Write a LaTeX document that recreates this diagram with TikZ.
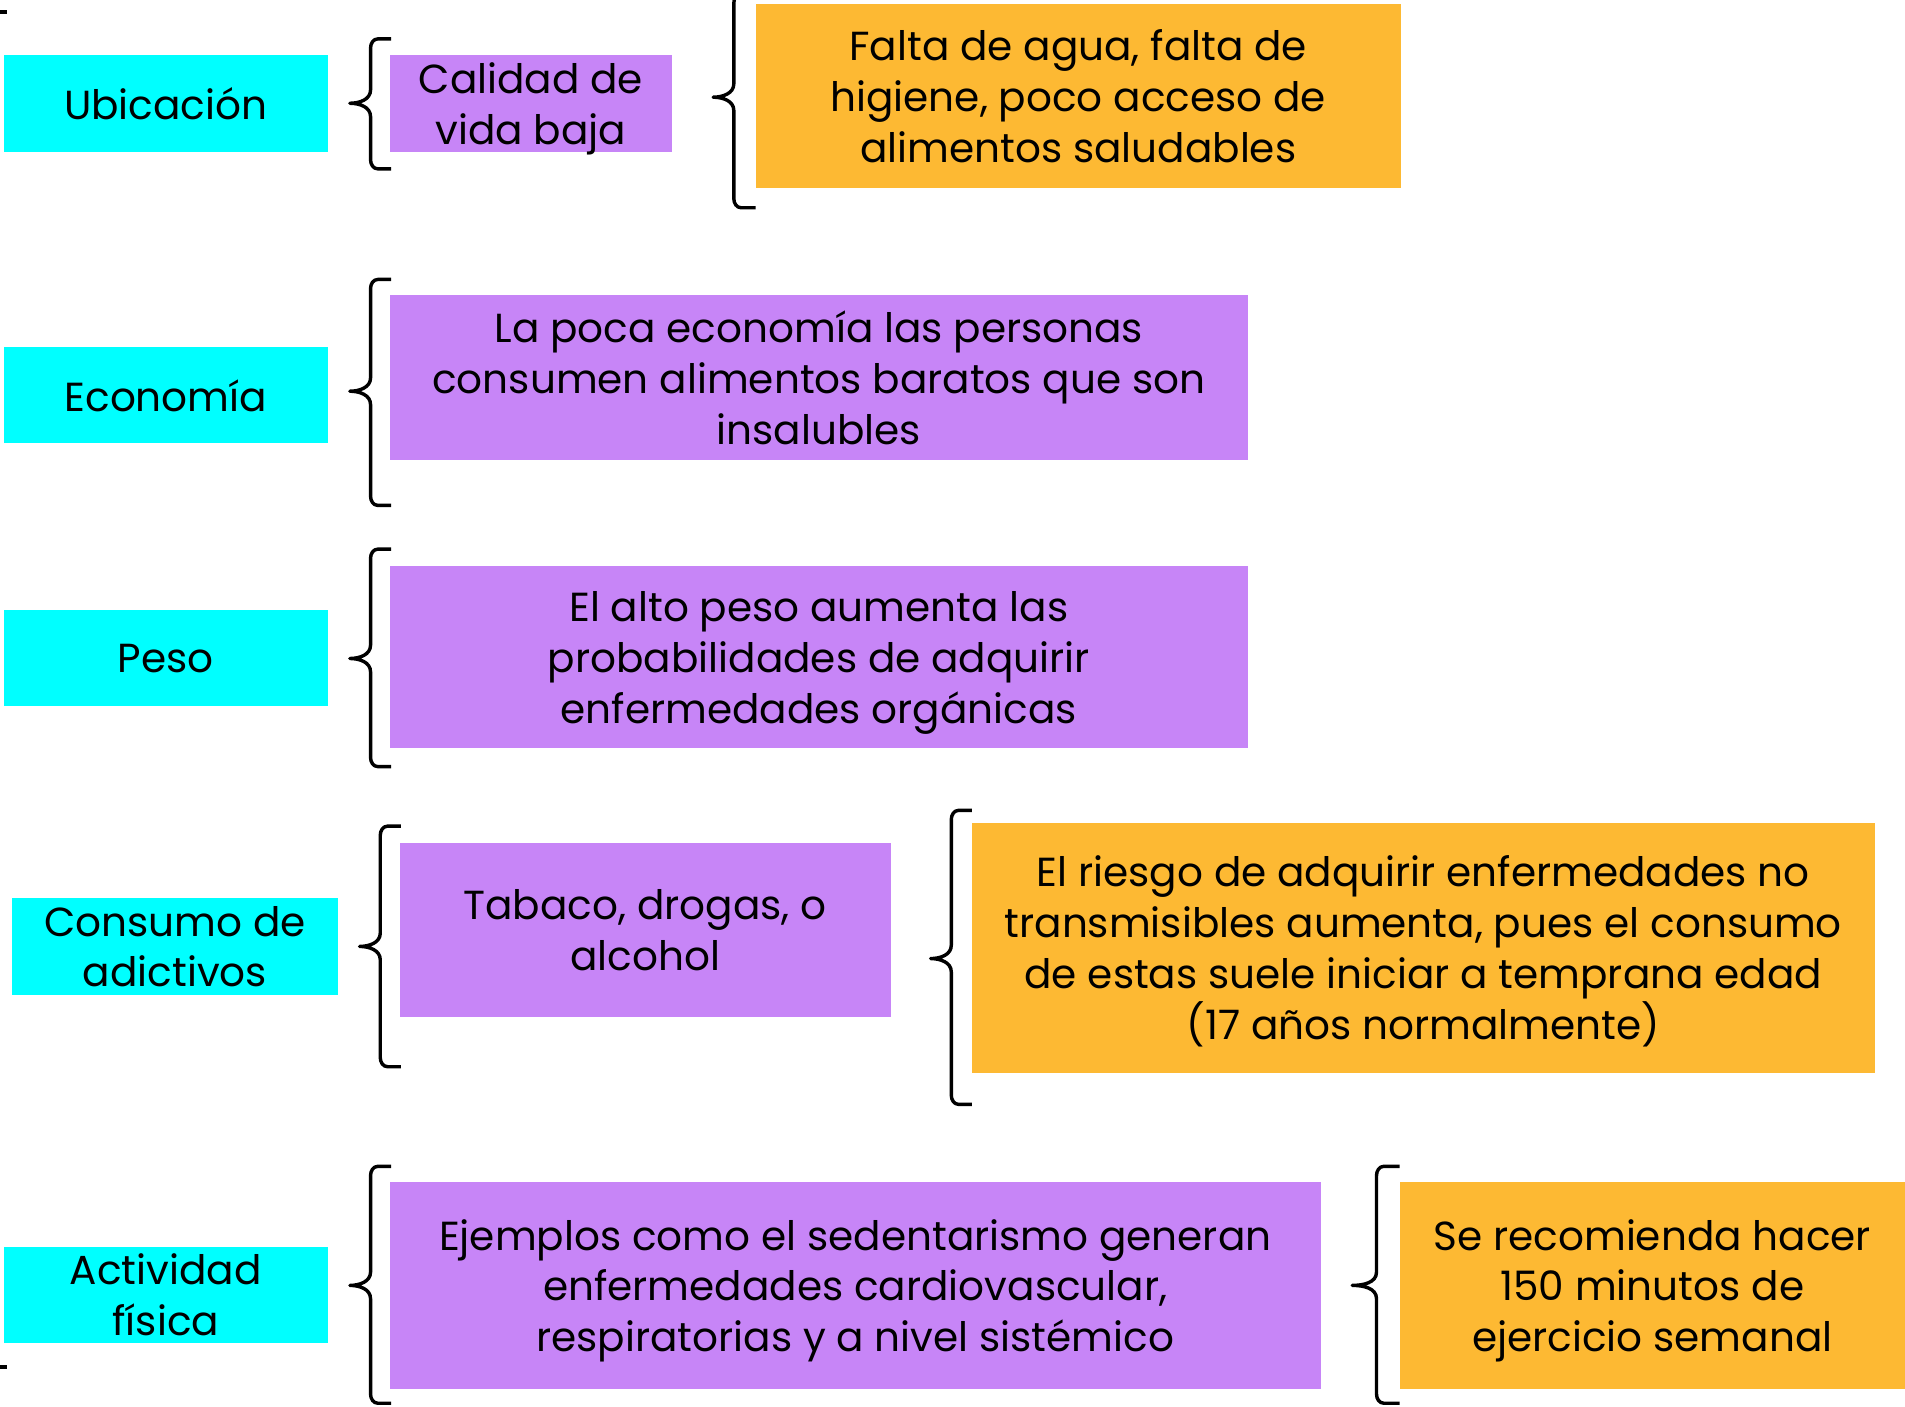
\documentclass[tikz,border=0pt]{standalone}
\usepackage{fontspec}
\setmainfont{Poppins}
\usepackage{xcolor}
\definecolor{cian}{HTML}{00FFFF}
\definecolor{lila}{HTML}{C785F7}
\definecolor{naranja}{HTML}{FDB933}

\begin{document}
\begin{tikzpicture}[
  caja/.style={inner sep=0pt, align=center, text depth=0pt, font=\fontsize{19}{23.8}\selectfont},
  tema/.style={caja, fill=cian},
  causa/.style={caja, fill=lila},
  efecto/.style={caja, fill=naranja},
  llave/.style={line width=1.6pt, line join=round}
]

\useasboundingbox (0,0) rectangle (31.36,-23.16);

% Brace: tip x, line x, arm x, top, middle, bottom
\def\llave#1#2#3#4#5#6{%
  \draw[llave] (#3,#4) -- (#2+0.12,#4) to[out=180,in=90] (#2,#4-0.15)
    -- (#2,#5+0.22) to[out=-90,in=0] (#1,#5) to[out=0,in=90] (#2,#5-0.22)
    -- (#2,#6+0.15) to[out=-90,in=180] (#2+0.12,#6) -- (#3,#6);}

% Topics (left column)
\node[tema, minimum width=5.34cm, minimum height=1.6cm]  (ubic) at (2.73,-1.70)  {Ubicación};
\node[tema, minimum width=5.34cm, minimum height=1.58cm] (econ) at (2.73,-6.51)  {Economía};
\node[tema, minimum width=5.34cm, minimum height=1.58cm] (peso) at (2.73,-10.83) {Peso};
\node[tema, minimum width=5.36cm, minimum height=1.6cm]  (cons) at (2.88,-15.58) {Consumo de\\adictivos};
\node[tema, minimum width=5.34cm, minimum height=1.58cm] (acti) at (2.73,-21.31) {Actividad\\física};

% Causes (middle)
\node[causa, minimum width=4.64cm, minimum height=1.6cm]   (calidad)  at (8.74,-1.70)   {Calidad de\\vida baja};
\node[causa, minimum width=14.12cm, minimum height=2.72cm] (pocaeco)  at (13.48,-6.22)  {La poca economía las personas\\consumen alimentos baratos que son\\insalubles};
\node[causa, minimum width=14.12cm, minimum height=3.0cm]  (altopeso) at (13.48,-10.82) {El alto peso aumenta las\\probabilidades de adquirir\\enfermedades orgánicas};
\node[causa, minimum width=8.08cm, minimum height=2.86cm]  (tabaco)   at (10.62,-15.31) {Tabaco, drogas, o\\alcohol};
\node[causa, minimum width=15.32cm, minimum height=3.4cm]  (ejemplos) at (14.08,-21.16) {Ejemplos como el sedentarismo generan\\enfermedades cardiovascular,\\respiratorias y a nivel sistémico};

% Consequences (right)
\node[efecto, minimum width=10.62cm, minimum height=3.04cm] (falta)  at (17.75,-1.58)  {Falta de agua, falta de\\higiene, poco acceso de\\alimentos saludables};
\node[efecto, minimum width=14.86cm, minimum height=4.12cm] (riesgo) at (23.43,-15.60) {El riesgo de adquirir enfermedades no\\transmisibles aumenta, pues el consumo\\de estas suele iniciar a temprana edad\\(17 años normalmente)};
\node[efecto, minimum width=8.32cm, minimum height=3.4cm]   (recom)  at (27.20,-21.16) {Se recomienda hacer\\150 minutos de\\ejercicio semanal};

% Braces
\llave{5.76}{6.10}{6.44}{-0.64}{-1.70}{-2.78}
\llave{11.74}{12.08}{12.44}{0.10}{-1.60}{-3.42}
\llave{5.76}{6.10}{6.44}{-4.60}{-6.44}{-8.32}
\llave{5.76}{6.10}{6.44}{-9.04}{-10.84}{-12.62}
\llave{5.92}{6.26}{6.60}{-13.60}{-15.58}{-17.56}
\llave{15.32}{15.66}{16.00}{-13.34}{-15.78}{-18.18}
\llave{5.76}{6.10}{6.44}{-19.20}{-21.16}{-23.10}
\llave{22.26}{22.66}{23.04}{-19.20}{-21.16}{-23.10}

% Ends of a brace cut off at the left edge
\draw[llave] (0,-0.20) -- (0.12,-0.20);
\draw[llave] (0,-22.50) -- (0.12,-22.50);

\end{tikzpicture}
\end{document}
